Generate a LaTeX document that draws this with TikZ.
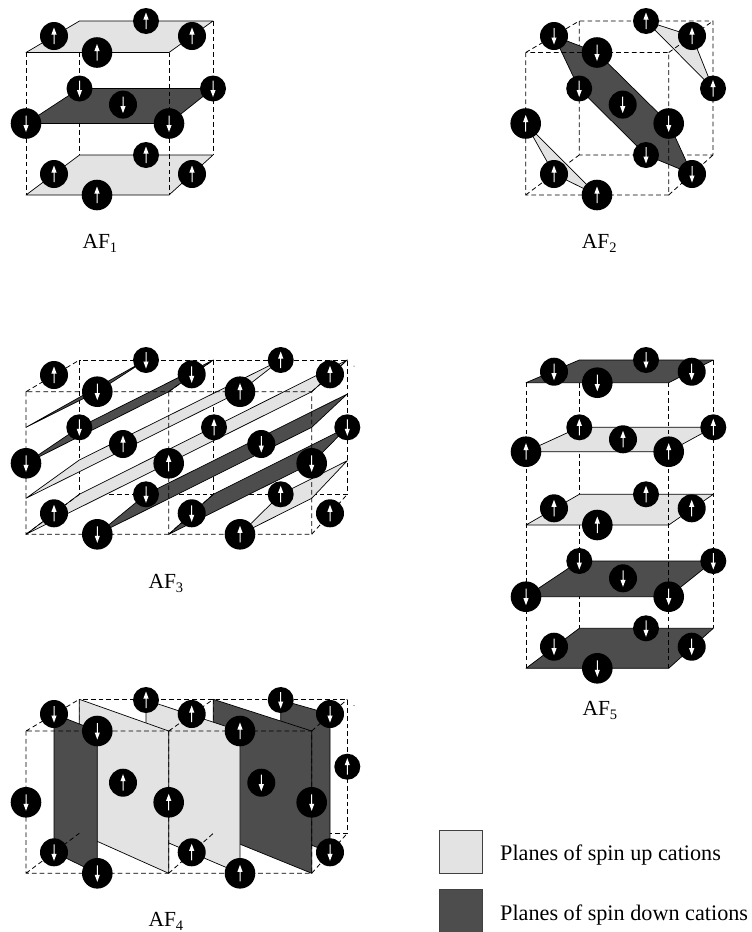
\documentclass[tikz,border=0pt]{standalone}
\usepackage{fontspec}
\setmainfont{Liberation Serif}
\definecolor{planeup}{HTML}{E3E3E3}
\definecolor{planedown}{HTML}{4D4D4D}
\tikzset{
  atomS/.style={circle,fill=black,inner sep=0pt,minimum size=26pt},
  atomM/.style={circle,fill=black,inner sep=0pt,minimum size=28pt},
  atomL/.style={circle,fill=black,inner sep=0pt,minimum size=30.6pt},
  edgehid/.style={draw=black,line width=0.8pt,dash pattern=on 4.7pt off 3.1pt},
  upplane/.style={fill=planeup,draw=black,line width=0.7pt,line join=round},
  downplane/.style={fill=planedown,draw=black,line width=0.7pt,line join=round},
  caption/.style={anchor=base west,inner sep=0pt,font=\fontsize{21.5}{24}\selectfont},
  legendtext/.style={anchor=base west,inner sep=0pt,font=\fontsize{22.2}{25}\selectfont},
}
\newcommand{\atomup}[3]{\node[#1] (#2) at (#3) {};
  \fill[white,shift={(#2.center)}] (-.5,8) -- (-.5,-1.5) -- (-2.6,-1.5) -- (0,-8.5) -- (2.6,-1.5) -- (.5,-1.5) -- (.5,8) -- cycle;}
\newcommand{\atomdown}[3]{\node[#1] (#2) at (#3) {};
  \fill[white,shift={(#2.center)}] (-.5,-8) -- (-.5,1.5) -- (-2.6,1.5) -- (0,8.5) -- (2.6,1.5) -- (.5,1.5) -- (.5,-8) -- cycle;}
\newcommand{\afname}[1]{AF\raisebox{-4pt}{\fontsize{14.5}{14.5}\selectfont #1}}
\begin{document}
\begin{tikzpicture}[x=1pt,y=-1pt]
\useasboundingbox (0,0) rectangle (752,932);

% ---------- AF1
\draw[edgehid] (79.5,21) -- (79.5,155) (213,21) -- (213,155);
\draw[upplane] (26,52.5) -- (79.5,21) -- (213,21) -- (169,52.5) -- cycle;
\draw[downplane] (26,123.5) -- (79.5,88.5) -- (213,88.5) -- (169,123.5) -- cycle;
\draw[upplane] (26,195) -- (79.5,155) -- (213,155) -- (169,195) -- cycle;
\draw[edgehid] (26,52.5) -- (26,195) (169,52.5) -- (169,195);
\atomup{atomS}{a1a}{146,21}
\atomup{atomM}{a1b}{54,36}
\atomup{atomM}{a1c}{192,36}
\atomup{atomL}{a1d}{97,52.5}
\atomdown{atomS}{a1e}{79.5,88.5}
\atomdown{atomS}{a1f}{213,88.5}
\atomdown{atomM}{a1g}{123,104.6}
\atomdown{atomL}{a1h}{26,123.5}
\atomdown{atomL}{a1i}{169,123.5}
\atomup{atomS}{a1j}{146,155}
\atomup{atomM}{a1k}{54,174}
\atomup{atomM}{a1l}{192,174}
\atomup{atomL}{a1m}{97,195}
\node[caption] (c1) at (82.3,248.3) {\afname{1}};

% ---------- AF2
\draw[edgehid] (579.2,21) rectangle (713,155) (525.7,195) -- (579.2,155) (668.7,195) -- (713,155);
\draw[downplane] (554,36) -- (597,52.5) -- (669,123.5) -- (692,174) -- (646,155) -- (579,88.5) -- cycle;
\draw[upplane] (646,21) -- (692,36) -- (713,88.5) -- cycle;
\draw[upplane] (525.7,123.5) -- (554,174) -- (597,195) -- cycle;
\draw[edgehid] (525.7,52.5) rectangle (668.7,195) (525.7,52.5) -- (579.2,21) (668.7,52.5) -- (713,21);
\atomup{atomS}{a2a}{646,21}
\atomdown{atomM}{a2b}{554,36}
\atomup{atomM}{a2c}{692,36}
\atomdown{atomL}{a2d}{597,52.5}
\atomdown{atomS}{a2e}{579.2,88.5}
\atomup{atomS}{a2f}{713,88.5}
\atomdown{atomM}{a2g}{622.7,104.6}
\atomup{atomL}{a2h}{525.7,123.5}
\atomdown{atomL}{a2i}{668.7,123.5}
\atomdown{atomS}{a2j}{646,155}
\atomup{atomM}{a2k}{554,174}
\atomdown{atomM}{a2l}{692,174}
\atomup{atomL}{a2m}{597,195}
\node[caption] (c2) at (581.7,248.3) {\afname{2}};

% ---------- AF3
\draw[edgehid] (79.5,360) rectangle (347.3,494.3) (213.3,360) -- (213.3,494.3);
\draw[downplane] (26,427.3) -- (146,360) -- (97.3,391.7) -- cycle;
\draw[downplane] (26,463.3) -- (79.3,427.3) -- (213.3,360) -- (168.7,391.7) -- cycle;
\draw[upplane] (26,498.3) -- (79.3,460) -- (280.7,360) -- (240,391.7) -- cycle;
\draw[upplane] (26,534.3) -- (79.3,494.3) -- (347.3,360) -- (311.7,391.7) -- cycle;
\draw[downplane] (97.3,534.3) -- (146,494.3) -- (347.3,394) -- (311.7,427.3) -- cycle;
\draw[downplane] (168.7,534.3) -- (213.3,494.3) -- (347.3,427.3) -- (311.7,463.3) -- cycle;
\draw[upplane] (240,534.3) -- (280.7,494.3) -- (347.3,460.7) -- (311.7,498.3) -- cycle;
\draw[edgehid] (26,391.7) rectangle (311.7,534.3) (168.7,391.7) -- (168.7,534.3)
  (26,391.7) -- (79.5,360) (168.7,391.7) -- (213.3,360) (311.7,391.7) -- (347.3,360)
  (26,534.3) -- (79.5,494.3) (168.7,534.3) -- (213.3,494.3) (311.7,534.3) -- (347.3,494.3);
\fill (354,366.2) circle (.5);
\atomup{atomM}{a3a}{54,375}
\atomdown{atomS}{a3b}{146,360}
\atomdown{atomM}{a3c}{191.7,374.3}
\atomdown{atomL}{a3d}{97.3,391.7}
\atomup{atomS}{a3e}{280.7,360}
\atomup{atomM}{a3f}{330,374.3}
\atomup{atomL}{a3g}{240,391.7}
\atomdown{atomS}{a3h}{79.3,427.3}
\atomup{atomS}{a3i}{214,427.3}
\atomdown{atomS}{a3j}{347.3,427.3}
\atomup{atomM}{a3k}{123,444}
\atomdown{atomM}{a3l}{261.3,444}
\atomdown{atomL}{a3m}{26,463.3}
\atomup{atomL}{a3n}{168.7,463.3}
\atomdown{atomL}{a3o}{311.7,463.3}
\atomdown{atomS}{a3p}{146,494.3}
\atomup{atomS}{a3q}{280.7,494.3}
\atomup{atomM}{a3r}{54,513.3}
\atomdown{atomM}{a3s}{191.7,513.3}
\atomup{atomM}{a3t}{330,513.3}
\atomdown{atomL}{a3u}{97.3,534.3}
\atomup{atomL}{a3v}{240,534.3}
\node[caption] (c3) at (148.3,588.3) {\afname{3}};

% ---------- AF4
\draw[edgehid] (79.3,699.3) rectangle (347.3,833.3) (213.3,699.3) -- (213.3,833.3);
\draw[downplane] (280.7,700) -- (330,714) -- (330,852.3) -- (280.7,833.3) -- cycle;
\draw[downplane] (213.3,699.3) -- (311.7,731) -- (311.7,873.3) -- (213.3,833.3) -- cycle;
\draw[upplane] (146,700) -- (240,731) -- (240,873.3) -- (146,833.3) -- cycle;
\draw[upplane] (79.3,699.3) -- (168.7,731) -- (168.7,873.3) -- (79.3,833.3) -- cycle;
\draw[downplane] (54,714) -- (97.3,731) -- (97.3,873.3) -- (54,852.3) -- cycle;
\draw[edgehid] (26,731) rectangle (311.7,873.3) (168.7,731) -- (168.7,873.3)
  (26,731) -- (79.3,699.3) (168.7,731) -- (213.3,699.3) (311.7,731) -- (347.3,699.3)
  (26,873.3) -- (79.3,833.3) (168.7,873.3) -- (213.3,833.3) (311.7,873.3) -- (347.3,833.3);
\fill (354,705.7) circle (.5);
\atomdown{atomM}{a4a}{54,714}
\atomup{atomS}{a4b}{146,700}
\atomup{atomM}{a4c}{191.7,714}
\atomdown{atomS}{a4d}{280.7,700}
\atomdown{atomM}{a4e}{330,714}
\atomdown{atomL}{a4f}{97.3,731}
\atomup{atomL}{a4g}{240,731}
\atomup{atomS}{a4h}{347.3,766.7}
\atomup{atomM}{a4i}{123,782.7}
\atomdown{atomM}{a4j}{261.3,782.7}
\atomdown{atomL}{a4k}{26,802.3}
\atomup{atomL}{a4l}{168.7,802.3}
\atomdown{atomL}{a4m}{311.7,802.3}
\atomdown{atomM}{a4n}{54,852.3}
\atomup{atomM}{a4o}{191.7,852.3}
\atomdown{atomM}{a4p}{330,852.3}
\atomdown{atomL}{a4q}{97.3,873.3}
\atomup{atomL}{a4r}{240,873.3}
\node[caption] (c4) at (148.3,926.7) {\afname{4}};

% ---------- AF5
\draw[edgehid] (579.3,360) -- (579.3,628.3) (713.3,360) -- (713.3,628.3);
\draw[downplane] (526,382.7) -- (579.3,360) -- (713.3,360) -- (668.7,382.7) -- cycle;
\draw[upplane] (526,451.7) -- (579.3,427.3) -- (713.3,427.3) -- (668.7,451.7) -- cycle;
\draw[upplane] (526,525) -- (579.3,494.3) -- (713.3,494.3) -- (668.7,525) -- cycle;
\draw[downplane] (526,596.7) -- (579.3,561) -- (713.3,561) -- (668.7,596.7) -- cycle;
\draw[downplane] (526,668.3) -- (579.3,628.3) -- (713.3,628.3) -- (668.7,668.3) -- cycle;
\draw[edgehid] (526,382.7) -- (526,668.3) (668.7,382.7) -- (668.7,668.3);
\atomdown{atomM}{a5a}{554,371.7}
\atomdown{atomS}{a5b}{646,360}
\atomdown{atomM}{a5c}{691.7,371.7}
\atomdown{atomL}{a5d}{597.3,382.7}
\atomup{atomS}{a5e}{579.3,427.3}
\atomup{atomS}{a5f}{713.3,427.3}
\atomup{atomM}{a5g}{623,439.3}
\atomup{atomL}{a5h}{526,451.7}
\atomup{atomL}{a5i}{668.7,451.7}
\atomup{atomS}{a5j}{646,494.3}
\atomup{atomM}{a5k}{554,508.3}
\atomup{atomM}{a5l}{691.7,508.3}
\atomup{atomL}{a5m}{597.3,525}
\atomdown{atomS}{a5n}{579.3,561}
\atomdown{atomS}{a5o}{713.3,561}
\atomdown{atomM}{a5p}{623,578.3}
\atomdown{atomL}{a5q}{526,596.7}
\atomdown{atomL}{a5r}{668.7,596.7}
\atomdown{atomS}{a5s}{646,628.3}
\atomdown{atomM}{a5t}{554,646.7}
\atomdown{atomM}{a5u}{691.7,646.7}
\atomdown{atomL}{a5v}{597.3,668.3}
\node[caption] (c5) at (582.3,715) {\afname{5}};

% ---------- legend
\draw[fill=planeup,draw=black!75,line width=0.8pt] (439.5,830) rectangle (482.7,873);
\fill[planedown] (439.5,889.3) rectangle (482.7,932);
\draw[draw=black!75,line width=0.8pt] (439.5,932) -- (439.5,889.3) -- (482.7,889.3) -- (482.7,932);
\node[legendtext] (l1) at (500,860) {Planes of spin up cations};
\node[legendtext] (l2) at (500,920) {Planes of spin down cations};
\end{tikzpicture}
\end{document}
